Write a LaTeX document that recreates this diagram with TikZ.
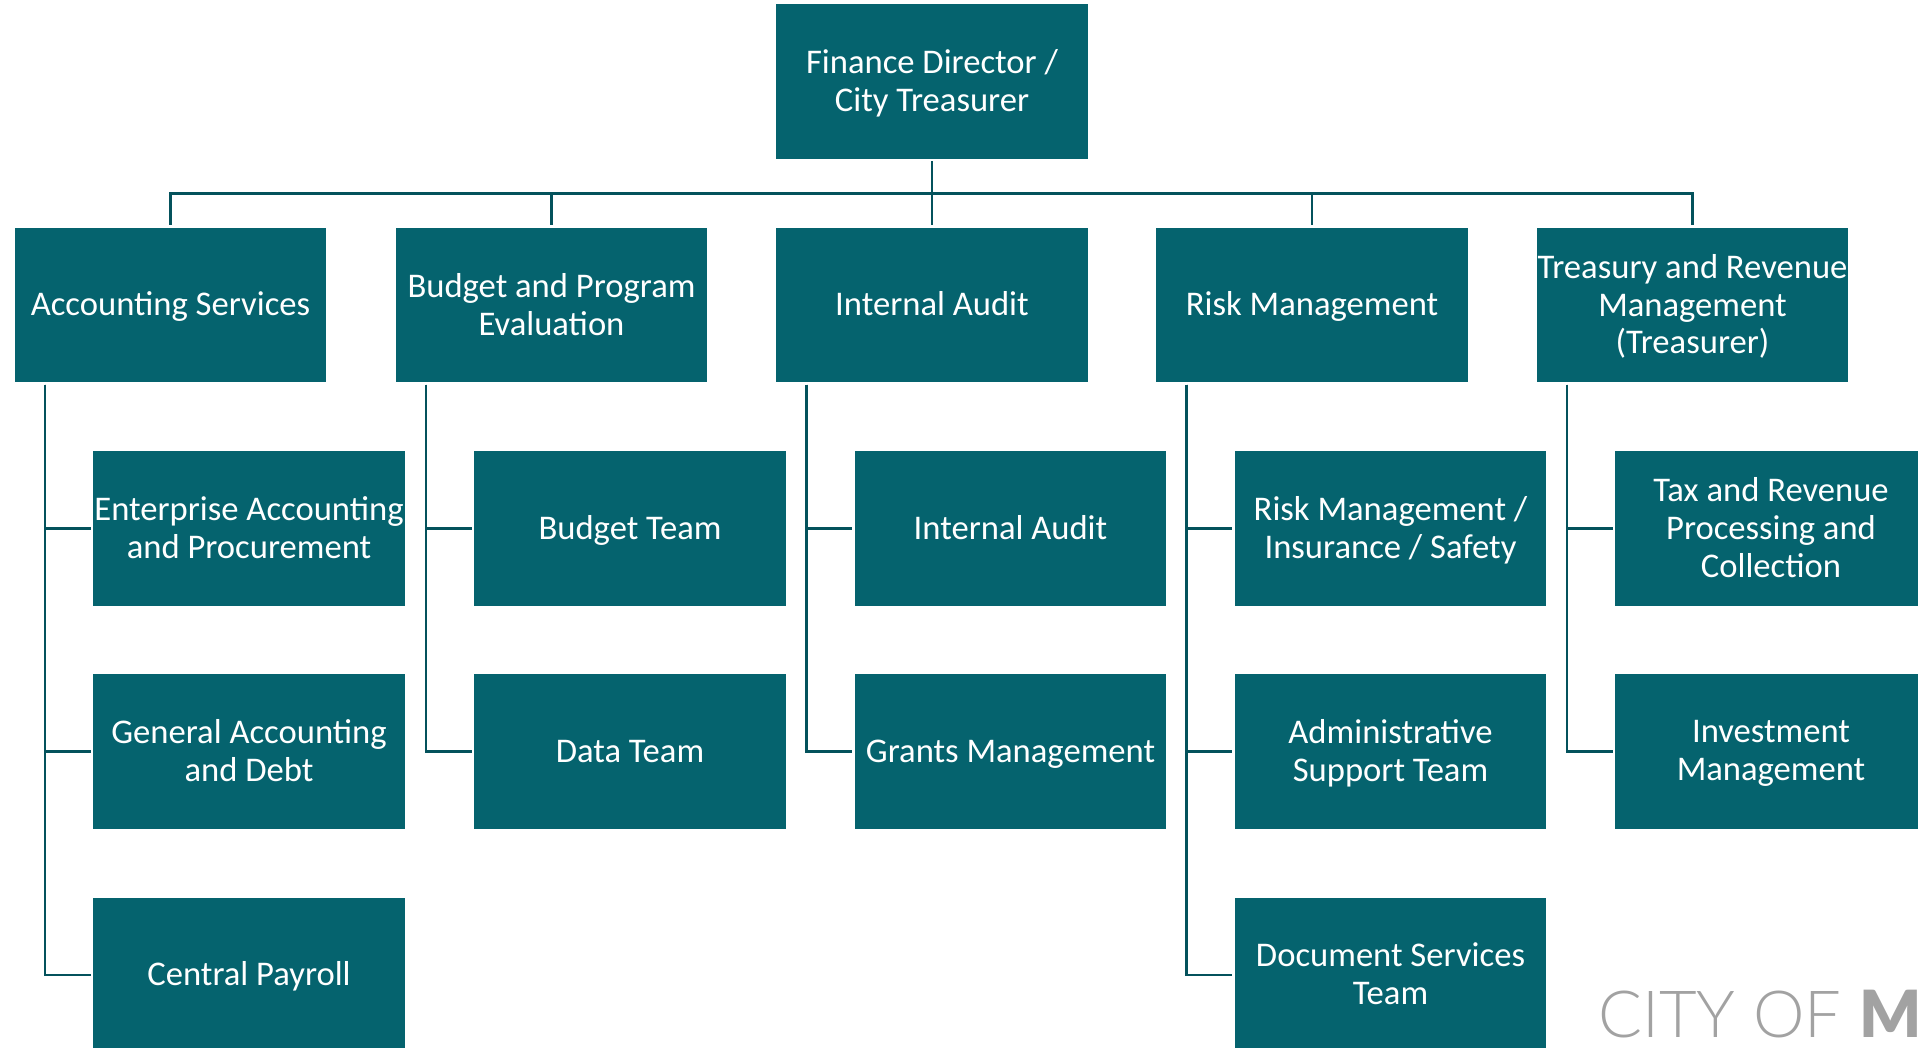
\documentclass[tikz,border=0pt]{standalone}
\usepackage{fontspec}
\setmainfont{Carlito}
\newfontfamily\logofont{Lato Light}[BoldFont={Lato Black}]
\definecolor{boxteal}{HTML}{05636E}
\definecolor{lineteal}{HTML}{04525C}
\definecolor{logogray}{HTML}{A2A2A2}
\begin{document}
\begin{tikzpicture}[auto,
    box/.style={fill=boxteal, text=white, minimum width=6.23cm, minimum height=3.09cm, inner sep=0pt, outer sep=0.05cm, align=center, font=\fontsize{19.7}{21.6}\selectfont, text depth=1.1pt},
    onebox/.style={box, text height=12.3pt, text depth=0pt},
    conn/.style={draw=lineteal, line width=0.05cm}]

    \clip (0, 0) rectangle (38.36, 20.96);

    \node [box] (fin) at (18.64, 19.33) {Finance Director /\\City Treasurer};

    \node [onebox] (acc) at (3.41, 14.86) {Accounting Services};
    \node [box] (bud) at (11.03, 14.86) {Budget and Program\\Evaluation};
    \node [onebox] (aud) at (18.64, 14.86) {Internal Audit};
    \node [onebox] (risk) at (26.24, 14.86) {Risk Management};
    \node [box] (tre) at (33.85, 14.86) {Treasury and Revenue\\Management\\(Treasurer)};

    \node [box] (acca) at (4.98, 10.39) {Enterprise Accounting\\and Procurement};
    \node [box] (accb) at (4.98, 5.93) {General Accounting\\and Debt};
    \node [onebox] (accc) at (4.98, 1.46) {Central Payroll};
    \node [onebox] (buda) at (12.60, 10.39) {Budget Team};
    \node [onebox] (budb) at (12.60, 5.93) {Data Team};
    \node [onebox] (auda) at (20.21, 10.39) {Internal Audit};
    \node [onebox] (audb) at (20.21, 5.93) {Grants Management};
    \node [box] (riska) at (27.81, 10.39) {Risk Management /\\Insurance / Safety};
    \node [box] (riskb) at (27.81, 5.93) {Administrative\\Support Team};
    \node [box] (riskc) at (27.81, 1.46) {Document Services\\Team};
    \node [box] (trea) at (35.42, 10.39) {Tax and Revenue\\Processing and\\Collection};
    \node [box] (treb) at (35.42, 5.93) {Investment\\Management};

    \coordinate (bus) at (18.64, 17.09);
    \node [text=logogray, inner sep=0pt, anchor=base west, font=\logofont\fontsize{37}{37}\selectfont] (logo) at (31.96, 0.2) {CITY OF \textbf{M}};

    \draw [conn] (fin.south) to (aud.north);
    \draw [conn] (bus) -| (acc.north);
    \draw [conn] (bus) -| (bud.north);
    \draw [conn] (bus) -| (risk.north);
    \draw [conn] (bus) -| (tre.north);

    \draw [conn] ([xshift=0.65cm]acc.south west) |- (acca.west);
    \draw [conn] ([xshift=0.65cm]acc.south west) |- (accb.west);
    \draw [conn] ([xshift=0.65cm]acc.south west) |- (accc.west);
    \draw [conn] ([xshift=0.65cm]bud.south west) |- (buda.west);
    \draw [conn] ([xshift=0.65cm]bud.south west) |- (budb.west);
    \draw [conn] ([xshift=0.65cm]aud.south west) |- (auda.west);
    \draw [conn] ([xshift=0.65cm]aud.south west) |- (audb.west);
    \draw [conn] ([xshift=0.65cm]risk.south west) |- (riska.west);
    \draw [conn] ([xshift=0.65cm]risk.south west) |- (riskb.west);
    \draw [conn] ([xshift=0.65cm]risk.south west) |- (riskc.west);
    \draw [conn] ([xshift=0.65cm]tre.south west) |- (trea.west);
    \draw [conn] ([xshift=0.65cm]tre.south west) |- (treb.west);

  \end{tikzpicture}
\end{document}
